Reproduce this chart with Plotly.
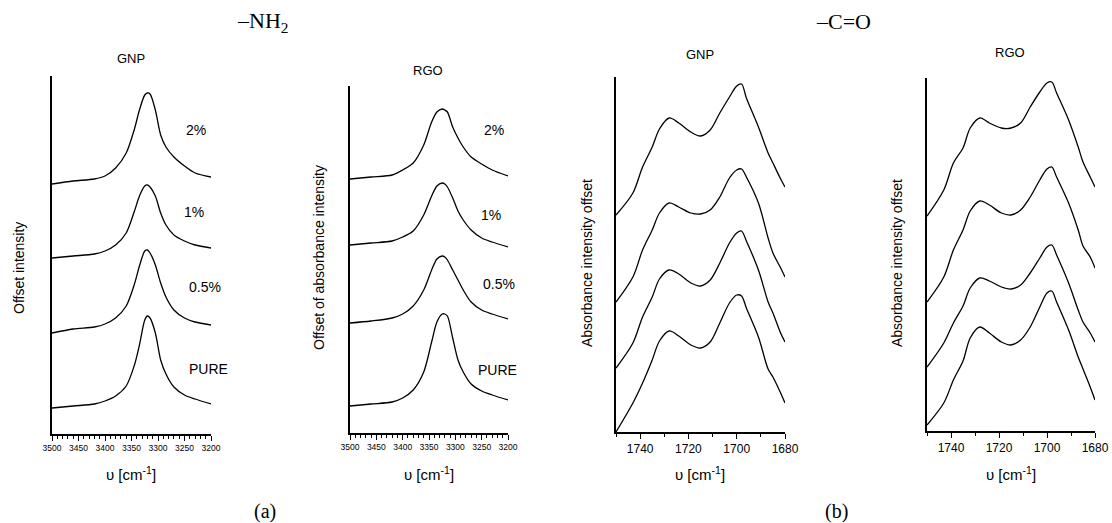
import plotly.graph_objects as go

# ---------------- data ----------------
# -NH2 region (wavenumber, cm-1)
nh2_wn = [3500, 3460, 3420, 3400, 3380, 3360, 3345, 3335, 3325, 3320, 3315,
          3305, 3295, 3285, 3270, 3250, 3230, 3200]
series_names = ["2%", "1%", "0.5%", "PURE"]

gnp_nh2_2 = [2.48, 2.51, 2.53, 2.56, 2.64, 2.79, 3.02, 3.22, 3.37, 3.39, 3.38,
             3.22, 2.97, 2.85, 2.75, 2.66, 2.59, 2.55]
gnp_nh2_1 = [1.74, 1.76, 1.78, 1.81, 1.87, 1.99, 2.20, 2.36, 2.46, 2.47, 2.45,
             2.36, 2.19, 2.07, 1.97, 1.91, 1.87, 1.84]
gnp_nh2_05 = [0.99, 1.03, 1.05, 1.08, 1.14, 1.26, 1.47, 1.66, 1.81, 1.82, 1.79,
              1.67, 1.49, 1.35, 1.22, 1.14, 1.10, 1.07]
gnp_nh2_pure = [0.24, 0.26, 0.28, 0.31, 0.36, 0.46, 0.66, 0.87, 1.12, 1.16, 1.14,
                0.99, 0.72, 0.58, 0.45, 0.37, 0.33, 0.28]

rgo_nh2_2 = [2.53, 2.55, 2.57, 2.62, 2.69, 2.87, 3.10, 3.20, 3.23, 3.22, 3.20,
             3.05, 2.94, 2.85, 2.75, 2.68, 2.62, 2.56]
rgo_nh2_1 = [1.87, 1.89, 1.91, 1.95, 2.01, 2.17, 2.36, 2.46, 2.49, 2.48, 2.45,
             2.34, 2.21, 2.12, 2.02, 1.94, 1.90, 1.85]
rgo_nh2_05 = [1.09, 1.11, 1.14, 1.18, 1.26, 1.42, 1.62, 1.73, 1.76, 1.75, 1.72,
              1.62, 1.52, 1.42, 1.30, 1.22, 1.18, 1.13]
rgo_nh2_pure = [0.26, 0.28, 0.30, 0.34, 0.42, 0.60, 0.90, 1.10, 1.18, 1.18, 1.16,
                0.94, 0.72, 0.60, 0.48, 0.41, 0.37, 0.32]

# -C=O region (wavenumber, cm-1)
co_wn = [1750, 1743, 1739, 1735, 1732, 1728, 1724, 1719, 1715, 1711, 1707,
         1703, 1700, 1698, 1696, 1691, 1687, 1685, 1682, 1680]

gnp_co_2 = [2.17, 2.39, 2.65, 2.85, 3.03, 3.14, 3.09, 3.00, 2.96, 3.02, 3.19,
            3.35, 3.46, 3.48, 3.34, 3.05, 2.79, 2.69, 2.54, 2.45]
gnp_co_1 = [1.30, 1.55, 1.82, 2.02, 2.19, 2.29, 2.25, 2.19, 2.18, 2.22, 2.35,
            2.54, 2.62, 2.63, 2.55, 2.29, 1.94, 1.79, 1.65, 1.55]
gnp_co_05 = [0.64, 0.89, 1.15, 1.35, 1.53, 1.62, 1.58, 1.49, 1.46, 1.52, 1.69,
             1.89, 1.99, 2.01, 1.91, 1.62, 1.30, 1.19, 1.00, 0.90]
gnp_co_pure = [0.00, 0.29, 0.49, 0.72, 0.91, 1.01, 0.96, 0.87, 0.84, 0.90, 1.09,
               1.29, 1.37, 1.36, 1.24, 0.95, 0.63, 0.55, 0.40, 0.29]

rgo_co_2 = [2.16, 2.42, 2.69, 2.84, 3.04, 3.14, 3.09, 3.04, 3.04, 3.09, 3.25,
            3.40, 3.49, 3.50, 3.39, 3.12, 2.85, 2.70, 2.55, 2.45]
rgo_co_1 = [1.30, 1.55, 1.82, 2.02, 2.21, 2.31, 2.27, 2.19, 2.17, 2.22, 2.35,
            2.52, 2.63, 2.65, 2.55, 2.29, 2.02, 1.86, 1.75, 1.64]
rgo_co_05 = [0.65, 0.89, 1.09, 1.26, 1.44, 1.54, 1.51, 1.45, 1.43, 1.47, 1.59,
             1.74, 1.85, 1.87, 1.77, 1.49, 1.22, 1.10, 0.99, 0.90]
rgo_co_pure = [0.07, 0.29, 0.52, 0.71, 0.94, 1.05, 0.99, 0.90, 0.87, 0.92, 1.05,
               1.25, 1.39, 1.41, 1.30, 1.02, 0.75, 0.63, 0.45, 0.32]

nh2_ticks = [3500, 3450, 3400, 3350, 3300, 3250, 3200]
co_ticks = [1740, 1720, 1700, 1680]

# ---------------- figure ----------------
W, H = 1112, 523
SANS = "Liberation Sans, Arial, sans-serif"
SERIF = "Liberation Serif, Times New Roman, serif"


def dx(px):
    return px / W


def dy(py):
    return 1 - py / H


fig = go.Figure()

panels = [
    ("", [gnp_nh2_2, gnp_nh2_1, gnp_nh2_05, gnp_nh2_pure], nh2_wn,
     (52, 211), (76, 434), [3500, 3200], [-0.02, 3.56], nh2_ticks, 10, 8.5, 0.8),
    ("2", [rgo_nh2_2, rgo_nh2_1, rgo_nh2_05, rgo_nh2_pure], nh2_wn,
     (350, 508), (86, 433), [3500, 3200], [-0.01, 3.46], nh2_ticks, 10, 8.5, 0.8),
    ("3", [gnp_co_2, gnp_co_1, gnp_co_05, gnp_co_pure], co_wn,
     (616, 785), (77, 432), [1750, 1680], [0.0, 3.55], co_ticks, 10, 12, 0.9),
    ("4", [rgo_co_2, rgo_co_1, rgo_co_05, rgo_co_pure], co_wn,
     (927, 1095), (78, 431), [1750, 1680], [0.01, 3.54], co_ticks, 10, 12, 0.9),
]

layout = {}
for aid, data, wn, (x0, x1), (y0, y1), xr, yr, ticks, minor, tfs, sm in panels:
    for name, ys in zip(series_names, data):
        fig.add_trace(go.Scatter(
            x=wn, y=ys, mode="lines", name=name, showlegend=False,
            line=dict(color="black", width=1.3, shape="spline", smoothing=sm),
            xaxis="x" + aid, yaxis="y" + aid,
        ))
    layout["xaxis" + aid] = dict(
        domain=[dx(x0), dx(x1)], range=xr, anchor="y" + aid,
        automargin=False,
        showgrid=False, zeroline=False, showline=True, linecolor="black",
        linewidth=1.5, ticks="outside", ticklen=5, tickwidth=1.2,
        tickcolor="black", tickvals=ticks,
        tickfont=dict(family=SANS, size=tfs, color="black"),
        minor=dict(dtick=minor, ticklen=3, tickwidth=1, tickcolor="black",
                   ticks="outside", showgrid=False),
        fixedrange=True,
    )
    layout["yaxis" + aid] = dict(
        domain=[dy(y1), dy(y0)], range=yr, anchor="x" + aid,
        automargin=False,
        showgrid=False, zeroline=False, showline=True, linecolor="black",
        linewidth=1.5, showticklabels=False, ticks="", fixedrange=True,
    )

fig.update_layout(
    template="none",
    width=W, height=H, autosize=False,
    margin=dict(l=0, r=0, t=0, b=0, pad=0, autoexpand=False),
    paper_bgcolor="white", plot_bgcolor="white", showlegend=False, **layout,
)

ann = []


def text(x, y, s, size=14, family=SANS, angle=0):
    ann.append(dict(x=dx(x), y=dy(y), xref="paper", yref="paper", text=s,
                    showarrow=False,
                    font=dict(family=family, size=size, color="black"),
                    textangle=angle, xanchor="center", yanchor="middle"))


# panel titles
text(131, 58, "GNP", 13)
text(428, 70, "RGO", 13)
text(700, 55, "GNP", 13)
text(1010, 52, "RGO", 13)
# group titles
text(262, 22, "–NH<sub>2</sub>", 22, SERIF)
text(843, 22, "–C=O", 22, SERIF)
# x axis titles
for cx in (131, 429, 700, 1011):
    text(cx, 473, "υ [cm<sup>-1</sup>]", 15)
# y axis titles
text(19, 268, "Offset intensity", 14, angle=-90)
text(319, 258, "Offset of absorbance intensity", 14, angle=-90)
text(587, 263, "Absorbance intensity offset", 14, angle=-90)
text(897, 263, "Absorbance intensity offset", 14, angle=-90)
# series labels
for x, y, s in [(196, 130, "2%"), (194, 212, "1%"), (205, 287, "0.5%"),
                (208, 369, "PURE"), (494, 130, "2%"), (491, 215, "1%"),
                (499, 284, "0.5%"), (497, 370, "PURE")]:
    text(x, y, s, 14)
# sub-figure labels
text(265, 511, "(a)", 20, SERIF)
text(836, 511, "(b)", 20, SERIF)

fig.update_layout(annotations=ann)
fig.write_html("out.html")
